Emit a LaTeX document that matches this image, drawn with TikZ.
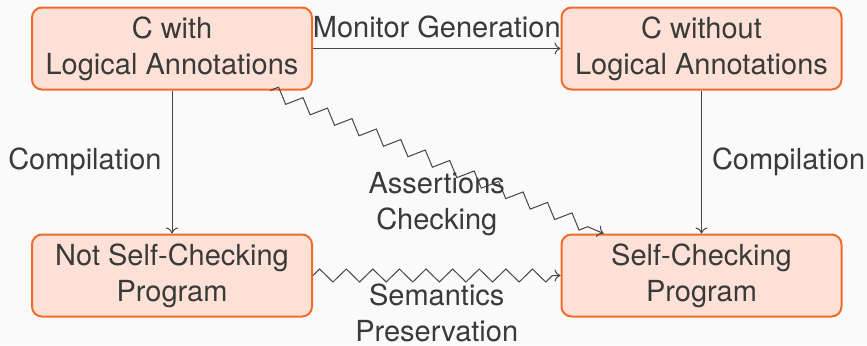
\documentclass[tikz,border=0pt]{standalone}
\usepackage{fontspec}
\setmainfont{TeX Gyre Heros}
\usetikzlibrary{arrows.meta,decorations.pathmorphing}
\definecolor{bg}{HTML}{FAFAFA}
\definecolor{boxfill}{HTML}{FDE1D6}
\definecolor{boxdraw}{HTML}{F36B2B}
\definecolor{txt}{HTML}{3A3A3A}
\definecolor{edgecol}{HTML}{454545}
\begin{document}
\begin{tikzpicture}[x=0.5pt,y=-0.5pt,
  font=\fontsize{14.5pt}{18pt}\selectfont,
  box/.style={draw=boxdraw, fill=boxfill, line width=1pt, rounded corners=5pt,
    minimum width=140pt, minimum height=41pt, align=center, text=txt, inner sep=0pt},
  lbl/.style={text=txt, inner sep=5pt, align=center},
  edgeline/.style={draw=edgecol, line width=0.5pt, -{To[length=3pt,width=6pt]}},
  zz/.style={edgeline, decorate, decoration={zigzag, segment length=13.3pt, amplitude=3.25pt, post length=3pt}}]
\fill[bg] (0,0) rectangle (867,345);
\useasboundingbox (0,0) rectangle (867,345);
\node[box] (b1) at (172,48.5) {C with\\Logical Annotations};
\node[box] (b2) at (701.5,48.5) {C without\\Logical Annotations};
\node[box] (b3) at (172,275.5) {Not Self-Checking\\Program};
\node[box] (b4) at (701.5,275.5) {Self-Checking\\Program};
\draw[edgeline] (b1) -- node[lbl, above] {Monitor Generation} (b2);
\draw[edgeline] (b1) -- node[lbl, left] {Compilation} (b3);
\draw[edgeline] (b2) -- node[lbl, right] {Compilation} (b4);
\draw[zz] (b3) -- node[lbl, below, yshift=1pt] {Semantics\\Preservation} (b4);
\draw[zz] (b1) -- node[lbl, below] {Assertions\\Checking} (b4);
\end{tikzpicture}
\end{document}
